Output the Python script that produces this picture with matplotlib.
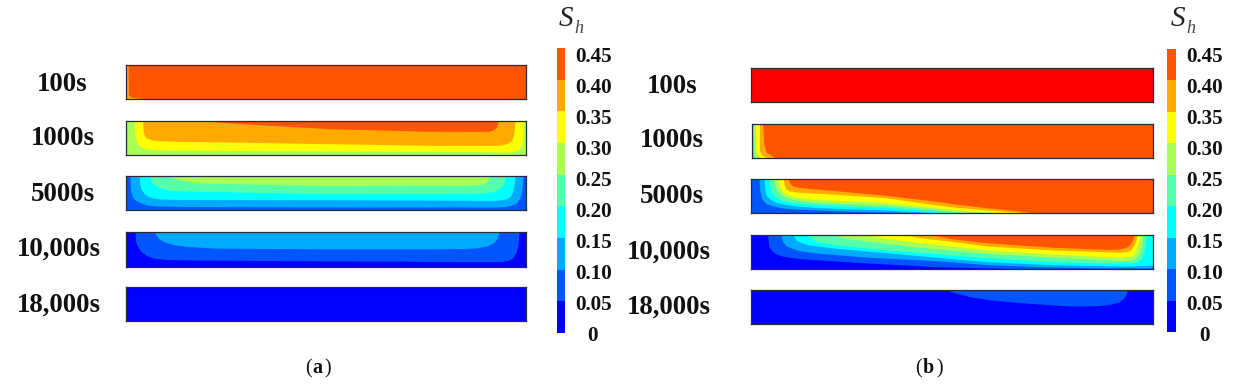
#!/usr/bin/env python3
"""Hydrate saturation S_h contours at five times, cases (a) and (b)."""

import matplotlib
matplotlib.use('Agg')
import matplotlib.pyplot as plt
from matplotlib.cm import ScalarMappable
from matplotlib.colors import BoundaryNorm, ListedColormap

W, H = 1237, 390
SERIF = 'Liberation Serif'

BOUNDS = [0, 0.05, 0.10, 0.15, 0.20, 0.25, 0.30, 0.35, 0.40, 0.45]
BAND_COLORS = ['#0000FF', '#0055FF', '#00AAFF', '#00FFFF', '#55FFAA',
               '#AAFF55', '#FFFF00', '#FFAA00', '#FF5500', '#FF0000']
TICK_LABELS = ['0.45', '0.40', '0.35', '0.30', '0.25', '0.20', '0.15', '0.10', '0.05', '0']
TIME_LABELS = ['100s', '1000s', '5000s', '10,000s', '18,000s']

# Every panel: base band, then for each level the depth from the top (0-34)
# down to where S_h falls under that level, read at stations along the length.

# (a) 100s
A1_BASE = 0.35
A1_LEVELS = [0.40]
A1_X = [[2, 2.4, 4, 8, 15, 30, 400]]
A1_DEPTH = [[0, 30, 31.5, 32.5, 33.3, 34, 34]]

# (a) 1000s
A2_BASE = 0.25
A2_LEVELS = [0.30, 0.35, 0.40]
A2_X = [[8.3, 8.6, 9.5, 11, 13, 16, 20, 26, 35, 60, 200, 350, 380, 388, 392, 395, 396.5, 397, 397.3],
        [16.7, 17, 17.5, 18.5, 20.7, 24, 28, 34, 44, 100, 204, 304, 370, 377, 382, 385, 387, 388, 389],
        [77, 120, 204, 304, 358, 364, 368, 370.5, 371.5, 372]]
A2_DEPTH = [[0, 10, 16, 21, 24.5, 26.5, 27.8, 28.5, 29, 29.3, 30, 30.5, 31, 30.3, 29, 26, 20, 13, 0],
            [0, 8, 12, 15, 17, 18.3, 19.2, 19.8, 20.2, 21, 22.7, 24.3, 24.3, 23.7, 22, 20, 16, 11, 0],
            [0, 3, 7.7, 10.3, 10.4, 10, 8.5, 6, 3, 0]]

# (a) 5000s
A3_BASE = 0.05
A3_LEVELS = [0.10, 0.15, 0.20, 0.25]
A3_X = [[4, 4.3, 5, 6.5, 9, 14, 21, 30, 60, 204, 370, 380, 386, 390.7, 394, 396, 396.7, 396.9],
        [13.3, 13.7, 15, 18, 22, 27, 34, 50, 74, 204, 365, 374, 380, 384, 386.5, 388, 389],
        [23.3, 24.5, 27, 31, 36, 42, 52, 74, 204, 304, 357, 368, 373, 377, 379, 379.7],
        [44, 49, 56, 65, 74, 204, 271, 337, 352, 358, 362, 364]]
A3_DEPTH = [[0, 12, 17, 21, 24, 26.5, 29, 30, 30.5, 31, 31, 30.5, 29, 26.5, 22, 13, 6, 0],
            [0, 8, 13, 17.5, 20.5, 22, 23, 23.4, 23.5, 23.7, 24.4, 24, 22.8, 20.5, 16, 10, 0],
            [0, 4, 7.5, 10.5, 12.5, 14, 14.8, 15.3, 17.7, 17.7, 17, 15.5, 13, 9, 4, 0],
            [0, 2.5, 4.5, 6, 7, 9.5, 9, 9.3, 8.8, 7.5, 4, 0]]

# (a) 10,000s
A4_BASE = 0
A4_LEVELS = [0.05, 0.10]
A4_X = [[9, 9.5, 10.5, 12.3, 15, 20.7, 28, 40.7, 70, 204, 330, 375, 382, 387, 390, 392, 393],
        [29, 30, 32.5, 36, 41, 48, 60.7, 90, 204, 304, 340, 352, 362, 368, 371.5, 373]]
A4_DEPTH = [[0, 8, 12, 15, 19, 23, 25.5, 26.7, 27.3, 28, 28.7, 28.7, 27.5, 25, 20, 13, 0],
            [0, 3, 6, 8.5, 10.5, 12.3, 14, 15.7, 16.3, 16.3, 16, 15.2, 13.2, 10, 5.5, 0]]

# (a) 18,000s
A5_BASE = 0
A5_LEVELS = []
A5_X = []
A5_DEPTH = []

# (b) 100s
B1_BASE = 0.45
B1_LEVELS = []
B1_X = []
B1_DEPTH = []

# (b) 1000s
B2_BASE = 0.20
B2_LEVELS = [0.25, 0.30, 0.35, 0.40]
B2_X = [[1.7, 1.9, 2.5, 4, 402],
        [3.3, 3.5, 4.5, 9, 402],
        [7.3, 7.5, 9, 15.7, 402],
        [10.7, 11.7, 14, 19, 23, 402]]
B2_DEPTH = [[0, 28, 33, 34, 34],
            [0, 25, 30, 34, 34],
            [0, 26, 31, 34, 34],
            [0, 20, 28, 31, 33.8, 34]]

# (b) 5000s
B3_BASE = 0.05
B3_LEVELS = [0.10, 0.15, 0.20, 0.25, 0.30, 0.35, 0.40]
B3_X = [[8, 8.7, 10.7, 15, 22, 32, 49, 102, 135, 165, 402],
        [13, 14.3, 16, 19, 24, 32, 45, 69, 135, 170, 185, 402],
        [18.3, 19, 20.7, 25.7, 32, 42, 55, 69, 135, 169, 195, 402],
        [23.3, 24, 25.7, 28.5, 32, 38, 45, 55, 69, 135, 169, 202, 225, 402],
        [27.3, 28, 29.7, 32, 35.7, 42, 50, 69, 135, 169, 202, 236, 256, 402],
        [32.3, 33, 34.7, 38, 45.7, 55, 69, 135, 169, 202, 236, 262, 276, 402],
        [37.3, 38.5, 42, 48, 55.7, 69, 135, 189, 202, 236, 269, 282, 402]]
B3_DEPTH = [[0, 12, 20, 24.5, 27, 29, 30.3, 32.3, 33, 34, 34],
            [0, 13.7, 17.5, 20, 23, 25, 27, 28.7, 31, 33, 34, 34],
            [0, 8, 13.7, 18.7, 21.7, 23.7, 25, 26, 28.3, 31, 34, 34],
            [0, 5, 10, 14, 17, 19.5, 21, 22.5, 23.5, 26.3, 29, 32.5, 34, 34],
            [0, 5, 10, 13, 15.3, 17.5, 19, 20.5, 23.7, 27, 30.5, 33, 34, 34],
            [0, 5, 10, 11.8, 13, 13.7, 14.3, 18.7, 23.7, 28, 31, 33, 34, 34],
            [0, 4, 7, 8.5, 9.3, 10.3, 16.3, 22.7, 24.7, 28.7, 32, 34, 34]]

# (b) 10,000s
B4_BASE = 0
B4_LEVELS = [0.05, 0.10, 0.15, 0.20, 0.25, 0.30, 0.35, 0.40]
B4_X = [[16.7, 17.2, 18, 20.5, 24, 30, 39, 50, 69, 122, 186, 269, 402],
        [30, 31.7, 35, 40.7, 50, 69, 119, 186, 236, 302, 369, 402],
        [42.3, 45, 50, 58, 85, 135, 186, 236, 302, 369, 380, 392, 402],
        [55.7, 65.7, 85, 135, 169, 236, 302, 369, 380, 386, 390, 392.5, 394, 395],
        [82.3, 95, 135, 169, 236, 302, 369, 378, 384, 388, 390.5, 392],
        [115.7, 135, 169, 236, 302, 369, 378, 382, 385, 388, 389],
        [155.7, 169, 202, 236, 302, 369, 376, 380, 383, 385, 386],
        [182, 202, 236, 302, 356, 368, 375, 379, 381.5, 383]]
B4_DEPTH = [[0, 6, 11.7, 15.5, 18.3, 20.7, 22.3, 23.7, 25, 28.3, 31.7, 33.7, 33.5],
            [0, 6.7, 10.5, 13.3, 16, 18.3, 22.3, 25.7, 29.7, 32, 33, 33],
            [0, 5, 7.5, 10, 13.3, 17.7, 22.3, 26.7, 29.7, 31, 31, 30.5, 30],
            [0, 6.7, 10, 15, 17.7, 22.7, 26.7, 28.3, 28, 27, 24, 19, 11, 0],
            [0, 3.3, 8.3, 12.3, 18.3, 22.3, 25.7, 25.5, 23.5, 19, 11, 0],
            [0, 3.3, 7.5, 15, 19, 22.3, 21.8, 20, 15, 6, 0],
            [0, 2.7, 6.5, 11, 15, 17.3, 16.5, 14.5, 10.5, 5, 0],
            [0, 4, 7.7, 12.3, 14.3, 14, 12.5, 9.5, 5, 0]]

# (b) 18,000s
B5_BASE = 0
B5_LEVELS = [0.05]
B5_X = [[195.7, 205, 219, 240, 269, 319, 345, 358, 368, 373, 375.5, 376.3]]
B5_DEPTH = [[0, 3, 6.7, 10, 12.7, 16, 15.8, 14.5, 12, 8, 3.3, 0]]

# left, top, right, bottom in pixels
PANELS_A = [(126, 65, 526, 99), (126, 121, 526, 155), (126, 176, 526, 210),
            (126, 232, 526, 267), (126, 287, 526, 321)]
PANELS_B = [(751, 68, 1153, 102), (752, 124, 1153, 158), (751, 179, 1153, 213),
            (751, 235, 1153, 269), (751, 290, 1153, 324)]


def band_color(level):
    return BAND_COLORS[min(range(len(BOUNDS)), key=lambda i: abs(BOUNDS[i] - level))]


def px_rect(left, top, right, bottom):
    return [left / W, 1 - bottom / H, (right - left) / W, (bottom - top) / H]


def put(x, y, s, **kw):
    kw.setdefault('family', SERIF)
    kw.setdefault('color', '#111111')
    fig.text(x / W, 1 - y / H, s, **kw)


def draw_panel(box, base, levels, xs, depths):
    ax = fig.add_axes(px_rect(*box))
    ax.set_xlim(0, box[2] - box[0])
    ax.set_ylim(34, 0)
    ax.set_xticks([])
    ax.set_yticks([])
    ax.set_facecolor(band_color(base))
    for level, x, depth in zip(levels, xs, depths):
        ax.fill_between(x, 0, depth, color=band_color(level), linewidth=0)
    for spine in ax.spines.values():
        spine.set_color('#2A2A3A')
        spine.set_linewidth(0.9)


def draw_colorbar(box):
    cax = fig.add_axes(px_rect(*box))
    cmap = ListedColormap(BAND_COLORS[:-1])
    norm = BoundaryNorm(BOUNDS, cmap.N)
    cbar = fig.colorbar(ScalarMappable(norm=norm, cmap=cmap), cax=cax, spacing='uniform')
    cbar.set_ticks([])
    cbar.minorticks_off()
    cbar.outline.set_visible(False)


fig = plt.figure(figsize=(W / 100, H / 100), dpi=100)
fig.patch.set_facecolor('white')

draw_panel(PANELS_A[0], A1_BASE, A1_LEVELS, A1_X, A1_DEPTH)
draw_panel(PANELS_A[1], A2_BASE, A2_LEVELS, A2_X, A2_DEPTH)
draw_panel(PANELS_A[2], A3_BASE, A3_LEVELS, A3_X, A3_DEPTH)
draw_panel(PANELS_A[3], A4_BASE, A4_LEVELS, A4_X, A4_DEPTH)
draw_panel(PANELS_A[4], A5_BASE, A5_LEVELS, A5_X, A5_DEPTH)
draw_panel(PANELS_B[0], B1_BASE, B1_LEVELS, B1_X, B1_DEPTH)
draw_panel(PANELS_B[1], B2_BASE, B2_LEVELS, B2_X, B2_DEPTH)
draw_panel(PANELS_B[2], B3_BASE, B3_LEVELS, B3_X, B3_DEPTH)
draw_panel(PANELS_B[3], B4_BASE, B4_LEVELS, B4_X, B4_DEPTH)
draw_panel(PANELS_B[4], B5_BASE, B5_LEVELS, B5_X, B5_DEPTH)

draw_colorbar((557, 48, 565, 333))
draw_colorbar((1167, 49, 1176, 332))

# Time labels, placed on their baselines so the comma does not shift them
for label, y in zip(TIME_LABELS, [91, 145, 201, 256, 312]):
    cx = 58.5 if ',' in label else 62.5
    put(cx, y, label, fontsize=19.4, fontweight='bold', ha='center', va='baseline')
for label, y in zip(TIME_LABELS, [93, 147, 203, 259, 314]):
    cx = 669 if ',' in label else 672
    put(cx, y, label, fontsize=19.4, fontweight='bold', ha='center', va='baseline')

# Colorbar labels sit a little under their band edges, as in the original
for i, label in enumerate(TICK_LABELS):
    y = 62 + i * 31
    put(593.5 if label != '0' else 592, y, label, fontsize=15.2, fontweight='bold',
        ha='center', va='baseline')
    put(1205 if label != '0' else 1204, y, label, fontsize=15.2, fontweight='bold',
        ha='center', va='baseline')

# S_h headers
for sx, hx in [(566, 579), (1178, 1191)]:
    put(sx, 26, 'S', fontsize=21, style='italic', ha='center', va='baseline', color='#222222')
    put(hx, 33, 'h', fontsize=13, style='italic', ha='center', va='baseline', color='#444444')

# Captions
for x0, letter, xl, xr in [(308, 'a', 317, 328), (918, 'b', 928, 940)]:
    put(x0, 373, '(', fontsize=14.5, ha='center', va='baseline')
    put(xl, 373, letter, fontsize=14.5, fontweight='bold', ha='center', va='baseline')
    put(xr, 373, ')', fontsize=14.5, ha='center', va='baseline')

fig.savefig('out.png', dpi=100, facecolor='white')
plt.close()
